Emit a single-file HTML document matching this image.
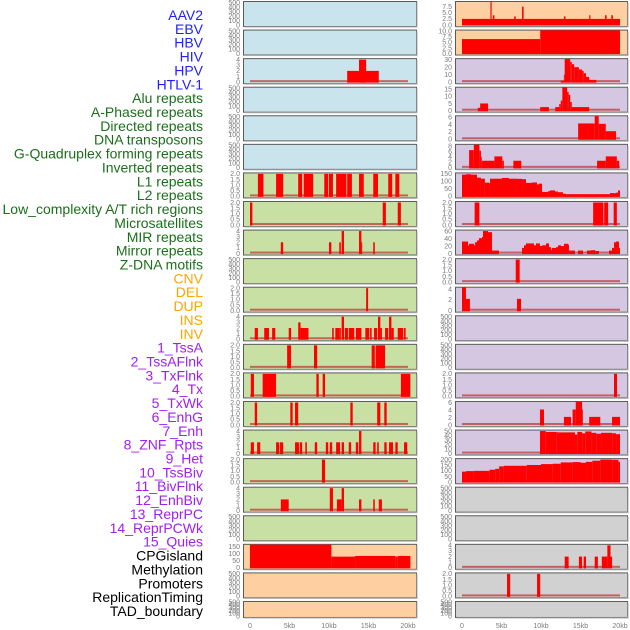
<!DOCTYPE html>
<html><head><meta charset="utf-8"><style>
html,body{margin:0;padding:0;background:#fff;}
svg{display:block;}
</style></head><body>
<svg id="chart" width="630" height="630" viewBox="0 0 630 630" xmlns="http://www.w3.org/2000/svg">
<g id="labels"></g>
<g id="panels"></g>
<g id="xaxes"></g>
</svg>
<script>
const trackLabels = ["AAV2","EBV","HBV","HIV","HPV","HTLV-1","Alu repeats","A-Phased repeats","Directed repeats","DNA transposons","G-Quadruplex forming repeats","Inverted repeats","L1 repeats","L2 repeats","Low_complexity A/T rich regions","Microsatellites","MIR repeats","Mirror repeats","Z-DNA motifs","CNV","DEL","DUP","INS","INV","1_TssA","2_TssAFlnk","3_TxFlnk","4_Tx","5_TxWk","6_EnhG","7_Enh","8_ZNF_Rpts","9_Het","10_TssBiv","11_BivFlnk","12_EnhBiv","13_ReprPC","14_ReprPCWk","15_Quies","CPGisland","Methylation","Promoters","ReplicationTiming","TAD_boundary"];
const labelGroups = [6,13,5,15,5];
const groupColors = ["#1f1fff","#1b6f1b","#ffa500","#a020f0","#000000"];
const xTickValues = [0,5,10,15,20];
const xTickLabels = ["0","5kb","10kb","15kb","20kb"];

const T500 = ["0","100","200","300","400","500"];
const T2 = ["0.0","0.5","1.0","1.5","2.0"];
const T4 = ["0","1","2","3","4"];
const leftTicks = [T500,T500,T4,T500,T500,T500,T2,T2,T4,T500,T2,T4,T2,T2,T2,T4,T2,T4,T500,["0","50","100","150"],T500,T500];
const rightTicks = [["0.0","2.5","5.0","7.5"],["0.0","2.5","5.0","7.5","10.0"],["0","10","20","30"],["0","5","10","15"],["0","2","4","6"],["0","2","4","6","8"],["0","50","100","150"],T2,["0","20","40","60"],T2,["0","2","4"],T500,T500,T2,["0","2","4","6"],["0","10","20","30","40","50"],["0","50","100","150","200"],T500,T500,T4,T2,T500];
const leftBg = ["#c9e4ec","#c9e4ec","#c9e4ec","#c9e4ec","#c9e4ec","#c9e4ec","#c9e0a5","#c9e0a5","#c9e0a5","#c9e0a5","#c9e0a5","#c9e0a5","#c9e0a5","#c9e0a5","#c9e0a5","#c9e0a5","#c9e0a5","#c9e0a5","#c9e0a5","#fecfa0","#fecfa0","#fecfa0"];
const rightBg = ["#fecfa0","#fecfa0","#d5c6e1","#d5c6e1","#d5c6e1","#d5c6e1","#d5c6e1","#d5c6e1","#d5c6e1","#d5c6e1","#d5c6e1","#d5c6e1","#d5c6e1","#d5c6e1","#d5c6e1","#d5c6e1","#d5c6e1","#d1d1d1","#d1d1d1","#d1d1d1","#d1d1d1","#d1d1d1"];

// segments: [startKb, endKb, value]
const leftSegments = [
 [],[],
 [[12.3,16.3,2],[13.8,14.7,4]],
 [],[],[],
 [[1.0,1.7,2],[3.3,4.2,2],[6.1,6.6,2],[6.8,8.0,2],[9.4,9.9,2],[10.0,10.5,2],[10.9,12.2,2],[12.3,12.9,2],[13.8,14.4,2],[15.6,16.2,2],[17.5,18.0,2],[18.4,18.9,2]],
 [[0,0.3,2],[16.8,17.2,2],[18.7,19.1,2]],
 [[3.9,4.2,2],[10.0,10.3,2],[11.3,11.5,2],[11.6,11.9,4],[13.8,14.1,4],[14.1,14.2,2],[15.6,15.8,2]],
 [],
 [[14.7,14.95,2]],
 [[0.6,1.0,2],[1.8,2.4,2],[2.8,3.2,2],[4.9,5.2,2],[6.1,6.4,3],[6.4,7.4,2],[10.4,10.6,2],[10.8,11.3,2],[11.3,11.5,2],[11.6,11.9,4],[12.0,12.4,2],[12.5,13.2,2],[13.4,14.1,2],[14.6,15.1,2],[15.2,15.4,2],[15.7,16.1,2],[16.2,16.5,4],[16.5,16.7,2],[17.1,17.5,2],[17.6,17.9,4],[17.9,18.2,2],[18.7,19.4,2],[19.5,19.7,2]],
 [[4.7,5.2,2],[8.1,8.5,2],[15.4,15.8,2],[15.9,17.1,2]],
 [[0.1,0.5,2],[1.6,3.3,2],[8.4,8.7,2],[9.2,9.5,2],[19.1,20.3,2]],
 [[0.6,0.9,2],[5.1,5.4,2],[5.7,6.1,2],[12.7,13.0,2],[16.1,16.5,2],[17.0,17.3,2]],
 [[0.1,0.5,2],[0.9,1.3,2],[3.3,3.7,2],[3.8,4.2,2],[5.7,6.2,2],[6.3,6.6,2],[7.0,7.2,2],[8.2,8.5,2],[9.6,9.9,2],[10.1,10.4,2],[10.9,11.4,2],[11.6,11.9,2],[12.5,12.8,2],[13.4,13.7,2],[13.8,14.1,4],[15.6,15.9,2],[16.1,16.3,2],[17.0,17.3,2],[17.6,18.1,2],[18.4,18.7,2],[19.5,19.9,2]],
 [[9.1,9.5,2]],
 [[3.9,4.9,2],[10.1,10.5,4],[11.0,11.6,2],[11.6,11.9,4],[13.8,14.1,2],[15.6,15.8,2],[16.3,16.7,2]],
 [],
 [[0,10.3,166],[10.3,13.3,80],[13.3,18.4,85],[18.4,18.7,80],[18.7,20.3,85]],
 [],[]
];
const rightSegments = [
 [[0,20,2.5],[3.6,3.75,9.5],[3.9,4.1,4],[6.6,6.8,3.5],[7.6,7.8,7.5],[12.9,13.1,3.5],[16.1,16.25,4],[18.1,18.3,4],[18.9,19.1,4]],
 [[0,9.9,6.5],[9.9,20,10.4]],
 [[12.5,12.9,2],[12.9,13.0,10],[13.0,13.7,31],[13.7,13.9,27],[13.9,14.2,24],[14.2,14.8,20],[14.8,15.2,17],[15.2,15.4,15],[15.4,15.7,12],[15.7,16.1,7],[16.1,17.0,3]],
 [[2.0,2.3,2],[2.3,3.3,5],[9.9,11.0,2.5],[11.8,12.3,2.5],[12.3,12.5,4.5],[12.5,12.7,7],[12.7,13.3,16],[13.3,13.5,13],[13.5,13.7,11],[13.7,13.9,6],[13.9,16.1,2.5]],
 [[14.7,16.8,4.3],[16.8,17.3,6.3],[17.3,18.2,4.2],[18.2,19.5,2.2]],
 [[0.9,1.5,6.5],[1.5,2.2,8.5],[2.2,2.4,6.3],[2.4,2.5,4],[2.5,4.1,2.6],[4.1,5.1,4.2],[5.1,5.3,2.6],[6.5,7.5,2.6],[17.1,18.2,2.6],[18.2,19.6,4.2],[19.6,19.9,2.6]],
 [[0,0.51,145],[0.51,1.14,148],[1.14,1.9,145],[1.9,2.4,125],[2.4,2.9,118],[2.9,3.42,92],[3.42,3.54,88],[3.54,5.06,118],[5.06,5.95,123],[5.95,6.96,118],[6.96,7.6,117],[7.6,8.1,115],[8.1,8.86,90],[8.86,9.49,93],[9.49,9.75,80],[9.75,10.13,85],[10.13,10.9,30],[10.9,11.14,35],[11.14,11.77,40],[11.77,12.15,33],[12.15,12.78,28],[12.78,13.16,18],[13.16,18.73,15],[18.73,19.49,22],[19.49,19.75,25],[19.75,20,40]],
 [[1.6,2.2,2],[16.6,17.9,2],[18.0,18.5,2],[19.2,19.6,2]],
 [[0,0.76,32],[0.76,0.89,22],[0.89,1.52,26],[1.52,1.65,22],[1.65,1.9,30],[1.9,2.15,35],[2.15,2.53,41],[2.53,2.66,44],[2.66,3.29,60],[3.29,3.8,57],[3.8,4.68,8],[7.59,7.85,15],[7.85,8.1,22],[8.1,9.11,27],[9.11,9.37,22],[9.37,9.87,27],[9.87,10.13,20],[10.13,10.63,22],[10.63,11.01,27],[11.01,11.27,17],[11.27,11.39,10],[11.39,11.9,15],[11.9,12.15,17],[12.15,12.53,22],[12.53,12.91,20],[12.91,13.42,26],[13.42,13.54,24],[13.54,14.3,8],[14.68,15.32,8],[15.82,16.33,8],[16.33,16.84,9],[16.84,17.34,7],[18.61,18.99,8],[18.99,19.24,15],[19.24,19.49,30],[19.49,19.87,32],[19.87,20,15]],
 [[6.8,7.3,2]],
 [[0,0.5,4.3],[0.5,1.0,2.2],[6.96,7.47,2.2]],
 [],[],
 [[19.24,19.62,2]],
 [[9.87,10.38,4.2],[12.9,13.8,2.2],[14.0,14.4,4.2],[14.4,15.2,6.3],[15.2,15.3,4.2],[16.1,17.5,2.2],[18.99,20,2.2]],
 [[9.87,10.6,50],[10.6,12,48],[12,14.3,47],[14.3,14.6,42],[14.6,15.2,48],[15.2,15.6,45],[15.6,16.4,49],[16.4,17,46],[17,17.6,44],[17.6,19,46],[19,19.5,45],[19.5,20,43]],
 [[0,0.5,93],[0.5,1.5,98],[1.5,3.5,100],[3.5,4.2,110],[4.2,4.7,118],[4.7,5.3,140],[5.3,8.2,145],[8.2,10,152],[10,11.5,160],[11.5,12.5,163],[12.5,14,175],[14,15,178],[15,15.7,172],[15.7,16.5,180],[16.5,17.5,190],[17.5,19,200],[19,19.8,198],[19.8,20,180]],
 [],[],
 [[13.0,13.5,2],[14.8,15.2,2],[15.4,15.7,2],[16.8,17.2,2],[17.7,18.4,2],[18.4,18.8,4],[18.8,19.0,2]],
 [[5.7,6.1,2],[9.5,9.9,2]],
 []
];

const NS = "http://www.w3.org/2000/svg";
function mk(tag, attrs, parent){ const e=document.createElementNS(NS,tag); for(const k in attrs) e.setAttribute(k,attrs[k]); parent.appendChild(e); return e; }

// labels
const gl = document.getElementById('labels');
let li = 0;
labelGroups.forEach((n,gi)=>{ for(let j=0;j<n;j++){
  const t = mk('text',{x:203,y:(20+li*13.86).toFixed(2),'text-anchor':'end','font-family':'Liberation Sans, sans-serif','font-size':'14',fill:groupColors[gi]},gl);
  t.textContent = trackLabels[li];
  
  
  li++; }});

const gp = document.getElementById('panels');
function rowTop(i){ return 1 + i*28.57; }
function rowH(i){ return i===21 ? 16 : 25; }

function drawColumn(side, px, pw, x0, segs, ticks, bgs){
  const xs = kb => x0 + kb*7.9;
  for(let i=0;i<22;i++){
    const T = rowTop(i), H = rowH(i);
    const g = mk('g',{},gp);
    
    
    const r = mk('rect',{x:px+0.5,y:T+0.5,width:pw,height:H,fill:bgs[i],stroke:'#5a5a5a','stroke-width':1},g);
    mk('rect',{x:px+1.5,y:T+H+0.5,width:pw,height:1,fill:'#b0b0b0'},g);
    mk('rect',{x:px+pw+0.5,y:T+1.5,width:1,height:H,fill:'#b0b0b0'},g);
    const tk = ticks[i];
    const topTick = parseFloat(tk[tk.length-1]);
    let maxV = 0; segs[i].forEach(s=>{ if(s[2]>maxV) maxV=s[2]; });
    const ymax = Math.max(topTick*1.03, maxV);
    const zeroY = T + H - 1, topY = T + 0.8;
    const ys = v => zeroY - v/ymax*(zeroY-topY);
    tk.forEach(l=>{
      const t = mk('text',{x:px-3,y:(ys(parseFloat(l))+2.3).toFixed(2),'text-anchor':'end','font-family':'Liberation Sans, sans-serif','font-size':'7',fill:'#7a7a7a'},g);
      t.textContent = l;
      
      
    });
    if(segs[i].length){
      const bl = mk('rect',{x:xs(0),y:zeroY-2,width:xs(20)-xs(0),height:2,fill:'rgba(190,50,50,0.7)'},g);
      
      
    }
    segs[i].forEach(s=>{
      const y = ys(s[2]);
      const b = mk('rect',{x:xs(s[0]).toFixed(2),y:y.toFixed(2),width:Math.max(0.8,xs(s[1])-xs(s[0])).toFixed(2),height:(zeroY-y+0.5).toFixed(2),fill:'#ff0000'},g);
      
      
    });
  }
  const gx = document.getElementById('xaxes');
  xTickValues.forEach((v,k)=>{
    const t = mk('text',{x:xs(v),y:628,'text-anchor':'middle','font-family':'Liberation Sans, sans-serif','font-size':'7',fill:'#7a7a7a'},gx);
    t.textContent = xTickLabels[k];
    
    
  });
}
drawColumn('left', 243, 173, 250, leftSegments, leftTicks, leftBg);
drawColumn('right', 455, 172, 462, rightSegments, rightTicks, rightBg);
</script>
</body></html>
